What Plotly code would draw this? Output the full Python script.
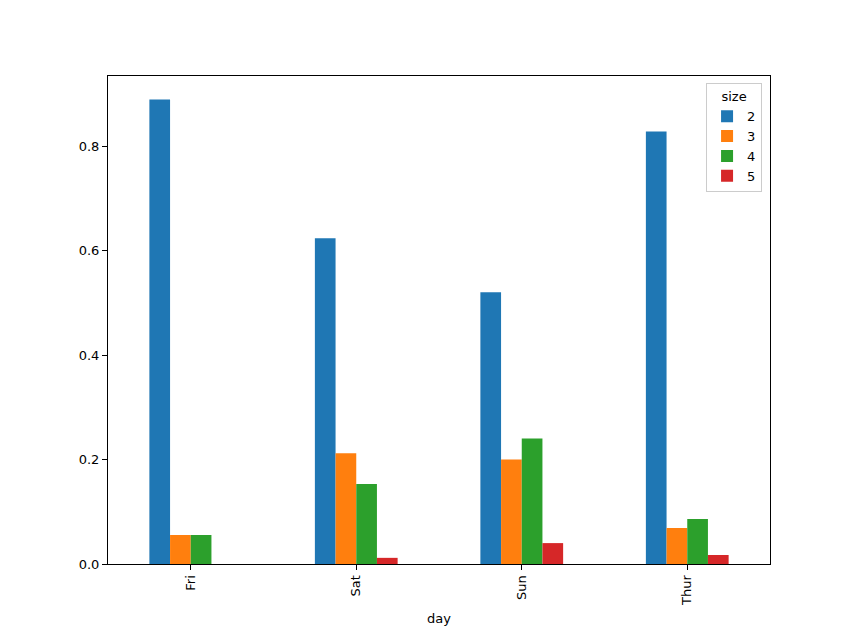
import plotly.graph_objects as go

days = ["Fri", "Sat", "Sun", "Thur"]
sizes = ["2", "3", "4", "5"]
size2 = [16/18, 53/85, 39/75, 48/58]
size3 = [1/18, 18/85, 15/75, 4/58]
size4 = [1/18, 13/85, 18/75, 5/58]
size5 = [0.0, 1/85, 3/75, 1/58]
colors = ["#1f77b4", "#ff7f0e", "#2ca02c", "#d62728"]

fig = go.Figure()
for name, vals, c in zip(sizes, [size2, size3, size4, size5], colors):
    fig.add_trace(go.Bar(x=days, y=vals, name=name, marker=dict(color=c, line=dict(width=0))))

fig.update_layout(
    width=847, height=626,
    margin=dict(l=100, r=85, t=68, b=70, autoexpand=False),
    paper_bgcolor="white", plot_bgcolor="white",
    font=dict(family="DejaVu Sans", size=13, color="black"),
    barmode="group", bargap=0.5, bargroupgap=0,
    showlegend=True,
    legend=dict(
        title=dict(text="size", side="top center", font=dict(size=13)),
        x=0.988, y=0.985, xanchor="right", yanchor="top",
        bordercolor="#cccccc", borderwidth=1, bgcolor="white",
        font=dict(size=13),
    ),
)
fig.update_xaxes(
    range=[-0.5, 3.5], showline=True, linecolor="black", mirror=True,
    ticks="outside", ticklen=5, tickcolor="black", tickangle=-90,
    showgrid=False, title=dict(text="day", standoff=8, font=dict(size=13)), automargin=False,
)
fig.update_yaxes(
    range=[0, 0.934], showline=True, linecolor="black", mirror=True,
    ticks="outside", ticklen=5, tickcolor="black", tickformat=".1f",
    tickvals=[0, 0.2, 0.4, 0.6, 0.8], showgrid=False, zeroline=False,
    automargin=False,
)
fig.write_html("out.html")
